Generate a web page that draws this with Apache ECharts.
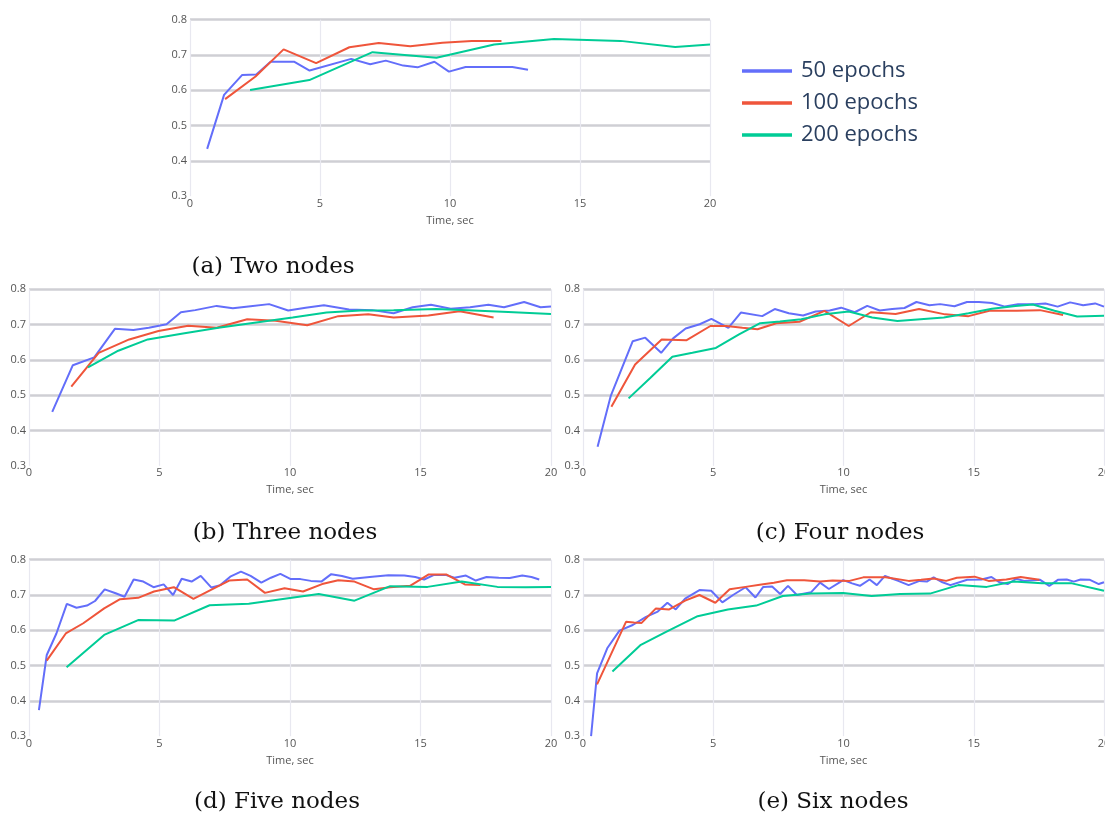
<!DOCTYPE html>
<html>
<head>
<meta charset="utf-8">
<script src="https://cdn.jsdelivr.net/npm/echarts@6/dist/echarts.min.js"></script>
<style>
html,body{margin:0;padding:0;background:#fff;}
#chart{width:1105px;height:816px;}
</style>
</head>
<body>
<div id="chart"></div>
<script>
// ---- data: [time (sec), accuracy] ----
const seriesNames = ['50 epochs', '100 epochs', '200 epochs'];
const captions = ['(a) Two nodes', '(b) Three nodes', '(c) Four nodes', '(d) Five nodes', '(e) Six nodes'];
const xTicks = [0, 5, 10, 15, 20];
const yTicks = [0.3, 0.4, 0.5, 0.6, 0.7, 0.8];

// (a) Two nodes
const a50 = [[0.66,0.434],[1.31,0.587],[2.0,0.643],[2.55,0.645],[3.1,0.681],[4.0,0.681],[4.6,0.656],[6.2,0.689],[6.93,0.674],[7.53,0.684],[8.2,0.670],[8.75,0.665],[9.4,0.681],[9.96,0.653],[10.6,0.666],[11.2,0.666],[12.4,0.666],[13.0,0.658]];
const a100 = [[1.35,0.575],[2.52,0.639],[3.6,0.716],[4.85,0.677],[6.13,0.722],[7.26,0.734],[8.47,0.725],[9.71,0.735],[10.84,0.740],[11.98,0.740]];
const a200 = [[2.31,0.601],[4.59,0.629],[7.02,0.708],[9.48,0.692],[11.7,0.730],[14.0,0.745],[16.56,0.740],[18.66,0.723],[20.0,0.730]];

// (b) Three nodes
const b50 = [[0.89,0.453],[1.68,0.585],[2.5,0.607],[3.29,0.688],[4.0,0.685],[4.59,0.691],[5.27,0.701],[5.82,0.735],[6.37,0.741],[7.19,0.753],[7.81,0.746],[8.49,0.752],[9.2,0.758],[9.93,0.740],[10.6,0.748],[11.3,0.755],[12.26,0.743],[13.15,0.741],[13.97,0.732],[14.7,0.749],[15.4,0.756],[16.16,0.745],[16.9,0.749],[17.6,0.756],[18.2,0.749],[18.97,0.764],[19.6,0.749],[20.0,0.751]];
const b100 = [[1.62,0.524],[2.67,0.620],[3.84,0.658],[4.96,0.682],[6.1,0.697],[7.19,0.691],[8.36,0.715],[9.45,0.711],[10.66,0.698],[11.85,0.724],[13.0,0.729],[13.97,0.720],[15.3,0.726],[16.5,0.738],[17.8,0.720]];
const b200 = [[2.26,0.579],[3.42,0.626],[4.55,0.658],[5.9,0.675],[7.26,0.691],[8.5,0.704],[10.1,0.720],[11.4,0.734],[12.7,0.740],[13.97,0.741],[15.6,0.744],[16.8,0.741],[18.36,0.736],[20.0,0.730]];

// (c) Four nodes
const c50 = [[0.56,0.354],[1.07,0.499],[1.91,0.653],[2.39,0.663],[3.0,0.620],[3.46,0.661],[3.94,0.689],[4.48,0.701],[4.93,0.716],[5.58,0.691],[6.06,0.734],[6.88,0.724],[7.36,0.744],[7.9,0.732],[8.45,0.726],[8.93,0.737],[9.47,0.740],[9.91,0.748],[10.43,0.735],[10.91,0.753],[11.39,0.740],[11.87,0.744],[12.34,0.747],[12.8,0.764],[13.3,0.755],[13.71,0.758],[14.26,0.752],[14.74,0.764],[15.2,0.764],[15.7,0.761],[16.2,0.751],[16.7,0.758],[17.34,0.758],[17.75,0.760],[18.22,0.751],[18.7,0.763],[19.2,0.755],[19.66,0.760],[20.0,0.751]];
const c100 = [[1.09,0.467],[2.0,0.587],[3.02,0.658],[3.98,0.656],[4.89,0.696],[5.5,0.696],[6.12,0.691],[6.7,0.687],[7.42,0.704],[8.31,0.708],[9.27,0.739],[10.2,0.696],[11.05,0.735],[12.0,0.730],[12.9,0.744],[13.9,0.729],[14.8,0.724],[15.6,0.739],[16.65,0.739],[17.54,0.741],[18.43,0.727]];
const c200 = [[1.75,0.491],[2.57,0.548],[3.43,0.609],[4.2,0.620],[5.1,0.634],[5.99,0.672],[6.8,0.704],[7.56,0.709],[8.38,0.715],[9.27,0.729],[10.2,0.737],[11.1,0.720],[12.07,0.710],[12.96,0.715],[13.85,0.720],[14.8,0.732],[15.7,0.745],[16.6,0.753],[17.27,0.757],[18.1,0.739],[18.97,0.723],[20.0,0.725]];

// (d) Five nodes
const d50 = [[0.38,0.374],[0.68,0.530],[1.05,0.591],[1.45,0.675],[1.82,0.664],[2.22,0.670],[2.53,0.683],[2.9,0.716],[3.32,0.705],[3.66,0.695],[4.01,0.744],[4.38,0.738],[4.77,0.722],[5.16,0.730],[5.52,0.700],[5.85,0.746],[6.23,0.738],[6.58,0.754],[6.99,0.721],[7.33,0.728],[7.71,0.752],[8.12,0.766],[8.49,0.754],[8.9,0.735],[9.27,0.749],[9.63,0.760],[10.03,0.745],[10.4,0.745],[10.8,0.740],[11.2,0.738],[11.58,0.759],[11.99,0.754],[12.4,0.746],[13.15,0.752],[13.77,0.756],[14.38,0.755],[14.8,0.751],[15.14,0.744],[15.52,0.757],[15.96,0.757],[16.3,0.749],[16.74,0.755],[17.12,0.741],[17.53,0.751],[18.0,0.749],[18.42,0.748],[18.9,0.755],[19.25,0.751],[19.55,0.744]];
const d100 = [[0.68,0.514],[1.41,0.591],[2.08,0.620],[2.88,0.662],[3.49,0.688],[4.18,0.692],[4.79,0.710],[5.55,0.722],[6.3,0.689],[6.99,0.715],[7.67,0.741],[8.36,0.744],[9.04,0.706],[9.79,0.719],[10.5,0.710],[11.23,0.731],[11.85,0.742],[12.47,0.738],[13.22,0.716],[13.84,0.722],[14.6,0.726],[15.3,0.758],[16.0,0.758],[16.7,0.730],[17.3,0.728]];
const d200 = [[1.44,0.495],[2.88,0.587],[4.18,0.629],[5.58,0.628],[6.92,0.671],[8.42,0.675],[11.1,0.703],[12.47,0.684],[13.84,0.725],[15.27,0.723],[16.58,0.738],[17.95,0.723],[19.04,0.722],[20.0,0.723]];

// (e) Six nodes
const e50 = [[0.31,0.300],[0.54,0.478],[0.93,0.549],[1.4,0.599],[1.91,0.615],[2.42,0.638],[2.87,0.653],[3.24,0.678],[3.56,0.659],[3.92,0.690],[4.47,0.714],[4.92,0.712],[5.35,0.679],[5.76,0.700],[6.24,0.722],[6.62,0.693],[6.92,0.723],[7.26,0.724],[7.57,0.703],[7.87,0.726],[8.21,0.700],[8.76,0.708],[9.1,0.735],[9.44,0.717],[9.99,0.742],[10.33,0.733],[10.63,0.726],[11.0,0.744],[11.28,0.728],[11.59,0.754],[12.1,0.740],[12.5,0.728],[12.92,0.740],[13.2,0.738],[13.46,0.750],[13.8,0.736],[14.1,0.728],[14.75,0.743],[15.3,0.744],[15.68,0.751],[15.98,0.736],[16.3,0.731],[16.63,0.746],[16.93,0.740],[17.55,0.743],[17.9,0.726],[18.23,0.743],[18.57,0.744],[18.84,0.738],[19.1,0.744],[19.46,0.743],[19.8,0.731],[20.0,0.736]];
const e100 = [[0.54,0.447],[1.65,0.624],[1.95,0.622],[2.25,0.621],[2.8,0.662],[3.31,0.659],[3.92,0.684],[4.47,0.700],[5.08,0.678],[5.63,0.716],[6.24,0.723],[6.85,0.730],[7.33,0.735],[7.83,0.742],[8.49,0.742],[9.1,0.738],[9.58,0.741],[10.23,0.740],[10.76,0.750],[11.62,0.750],[12.5,0.740],[12.98,0.743],[13.46,0.747],[13.94,0.740],[14.35,0.749],[15.03,0.752],[15.57,0.740],[16.25,0.744],[16.8,0.751],[17.52,0.743]];
const e200 = [[1.13,0.483],[2.22,0.559],[3.17,0.595],[4.4,0.640],[5.56,0.659],[6.65,0.670],[7.67,0.697],[8.76,0.704],[9.99,0.706],[11.08,0.697],[12.17,0.703],[13.32,0.704],[14.41,0.728],[15.5,0.723],[16.53,0.738],[17.62,0.733],[18.77,0.733],[20.0,0.712]];

const panels = [[a50,a100,a200],[b50,b100,b200],[c50,c100,c200],[d50,d100,d200],[e50,e100,e200]];
const colors = ['#636efa', '#ef553b', '#00cc96'];

// ---- layout ----
const grids = [
  {left:190, top:19.7, width:520, height:176.5},
  {left:29,  top:289.3, width:522, height:176.5},
  {left:583, top:289.3, width:521, height:176.5},
  {left:29,  top:559.7, width:522, height:176.5},
  {left:583, top:559.7, width:521, height:176.5}
];
const capPos = [[273,267],[285,533],[840,533],[277,802],[833,802]];

const labelColor = '#555';
const xAxes = [], yAxes = [], series = [], graphics = [];
grids.forEach((g, i) => {
  xAxes.push({
    type:'value', gridIndex:i, min:xTicks[0], max:xTicks[xTicks.length-1], interval:xTicks[1]-xTicks[0],
    name:'Time, sec', nameLocation:'middle', nameGap:19,
    nameTextStyle:{color:labelColor, fontSize:11, fontFamily:'Open Sans'},
    axisLine:{show:false}, axisTick:{show:false},
    axisLabel:{color:labelColor, fontSize:11, fontFamily:'Open Sans', margin:2},
    splitLine:{show:true, lineStyle:{color:'#e8e8f0', width:1.2}}
  });
  yAxes.push({
    type:'value', gridIndex:i, min:yTicks[0], max:yTicks[yTicks.length-1], interval:0.1,
    axisLine:{show:false}, axisTick:{show:false},
    axisLabel:{color:labelColor, fontSize:11, fontFamily:'Open Sans', margin:3,
      formatter: v => v.toFixed(1)},
    splitLine:{show:true, lineStyle:{color:['rgba(0,0,0,0)','#cfcfd4','#cfcfd4','#cfcfd4','#cfcfd4','#cfcfd4'], width:2.5}}
  });
  panels[i].forEach((d, k) => {
    series.push({
      type:'line', name:seriesNames[k], xAxisIndex:i, yAxisIndex:i, data:d,
      showSymbol:false, symbol:'none', animation:false,
      lineStyle:{color:colors[k], width:2}, itemStyle:{color:colors[k]}, z:3+k
    });
  });
  graphics.push({
    type:'text', x:capPos[i][0], y:capPos[i][1],
    style:{text:captions[i], fill:'#111', font:'23px "DejaVu Serif"', textAlign:'center', textVerticalAlign:'middle'}
  });
});

const chart = echarts.init(document.getElementById('chart'), null, {renderer:'canvas'});
chart.setOption({
  backgroundColor:'#fff',
  animation:false,
  grid:grids.map(g => Object.assign({containLabel:false, outerBoundsMode:'none'}, g)),
  xAxis:xAxes, yAxis:yAxes, series:series,
  legend:{
    data:seriesNames, orient:'vertical', left:737, top:55,
    icon:'rect', itemWidth:50, itemHeight:3.5, itemGap:10,
    textStyle:{color:'#2a3f5f', fontSize:22, fontFamily:'Open Sans', lineHeight:22, padding:[0,0,0,4]}
  },
  graphic:graphics
});
</script>
</body>
</html>
